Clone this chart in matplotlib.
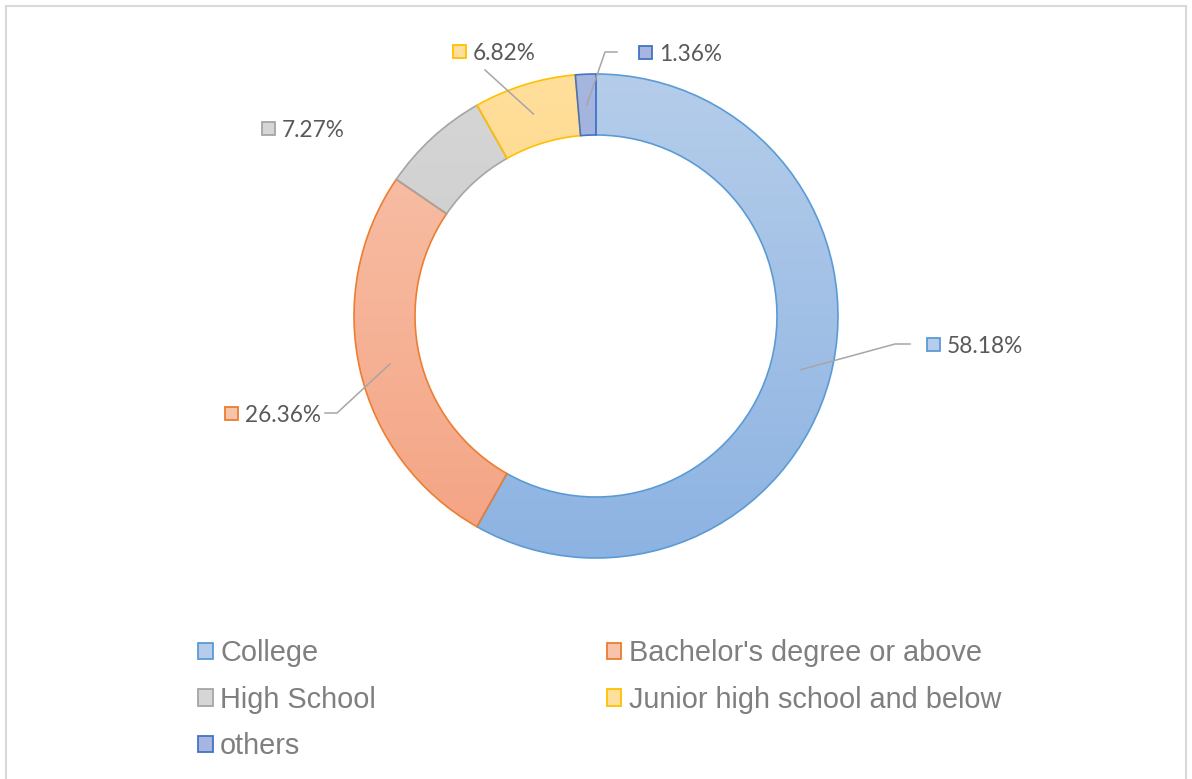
import numpy as np
import matplotlib
matplotlib.use('Agg')
from matplotlib import pyplot as plt
from matplotlib.patches import Rectangle, Patch

# ---------- Data
categories = ['College', "Bachelor's degree or above", 'High School',
              'Junior high school and below', 'others']
shares = [58.18, 26.36, 7.27, 6.82, 1.36]
labels = ['58.18%', '26.36%', '7.27%', '6.82%', '1.36%']

# ---------- Styles
edge_cols = ['#5b9bd5', '#ed7d31', '#a5a5a5', '#ffc000', '#4472c4']
top_cols = ['#b5cdea', '#f8c3ab', '#d6d6d6', '#ffdf9c', '#a6b6e0']
bot_cols = ['#8db3e2', '#f4a383', '#c6c6c6', '#ffcf6e', '#8ca1d8']

W, H = 1192, 779
cx, cy = 596, 316       # donut centre (pixels from top-left)
R, ring = 242, 61

def Y(py):
    return H - py

fig = plt.figure(figsize=(W / 100, H / 100), dpi=100)
ax = fig.add_axes([0, 0, 1, 1])

wedges, _ = ax.pie(shares, startangle=90, counterclock=False, radius=R,
                   center=(cx, Y(cy)), frame=True,
                   wedgeprops=dict(width=ring, linewidth=1.2))

# vertical gradient fill clipped to each wedge
g = np.linspace(0, 1, 256)[:, None, None]
for w, tc, bc, ec in zip(wedges, top_cols, bot_cols, edge_cols):
    t = np.array(matplotlib.colors.to_rgb(tc))
    b = np.array(matplotlib.colors.to_rgb(bc))
    img = t * (1 - g) + b * g
    im = ax.imshow(img, extent=(cx - R, cx + R, Y(cy) - R, Y(cy) + R),
                   origin='upper', aspect='auto', zorder=1)
    im.set_clip_path(w)
    w.set_facecolor('none')
    w.set_edgecolor(ec)
    w.set_zorder(2)

# ---------- Data labels (marker square + text) with leader lines
lab_pos = [(947, 344), (245, 413), (282, 128), (473, 51), (659, 52)]
leader_knee = [[(895, 344), (910, 344)], [(337, 413), (325, 413)], None,
               [(485, 70)], [(605, 52), (617, 52)]]
cum = np.cumsum([0] + shares[:-1])
for i, (lab, (tx, ty)) in enumerate(zip(labels, lab_pos)):
    ax.add_patch(Rectangle((tx - 20, Y(ty) - 6.5), 13, 13, facecolor=top_cols[i],
                           edgecolor=edge_cols[i], linewidth=1.3, zorder=3))
    ax.text(tx, Y(ty + 2), lab, fontsize=16.3, family='Lato', color='#595959',
            ha='left', va='center', zorder=3)
    if leader_knee[i] is not None:
        ang = np.deg2rad((cum[i] + shares[i] / 2) / 100 * 360)
        rm = R - ring / 2
        px, py = cx + rm * np.sin(ang), cy - rm * np.cos(ang)
        pts = [(px, py)] + leader_knee[i]
        ax.plot([p[0] for p in pts], [Y(p[1]) for p in pts], color='#a6a6a6',
                linewidth=1.1, zorder=4)

# ---------- Legend (row-major order in the original)
handles = [Patch(facecolor=top_cols[i], edgecolor=edge_cols[i], linewidth=1.3,
                 label=categories[i]) for i in range(5)]
order = [0, 2, 4, 1, 3]
ax.legend([handles[i] for i in order], [categories[i] for i in order], ncol=2,
          loc='upper left', bbox_to_anchor=(184, Y(625)),
          bbox_transform=ax.transData, frameon=False, borderpad=0,
          prop=dict(family='Liberation Sans', size=20.8), labelcolor='#7f7f7f',
          handlelength=0.5, handleheight=0.5, handletextpad=0.25,
          columnspacing=8.0, labelspacing=0.64)

# outer chart border
ax.add_patch(Rectangle((6, Y(800)), 1180, 794, facecolor='none',
                       edgecolor='#d9d9d9', linewidth=1.5, zorder=0))

ax.set_xlim(0, W)
ax.set_ylim(0, H)
ax.axis('off')

plt.savefig('out.png', dpi=100)
